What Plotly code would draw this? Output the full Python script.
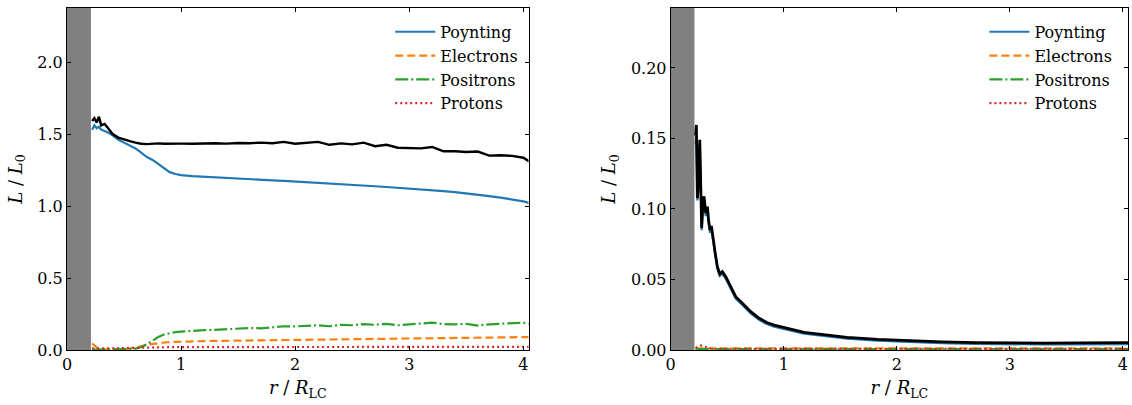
import plotly.graph_objects as go
from plotly.subplots import make_subplots

# ---------------- Left panel data ----------------
r_left = [0.22, 0.24, 0.26, 0.28, 0.30, 0.33, 0.36, 0.40, 0.45, 0.50,
          0.55, 0.60, 0.65, 0.70, 0.75, 0.80, 0.85, 0.90, 0.95, 1.00,
          1.1, 1.2, 1.3, 1.4, 1.5, 1.6, 1.7, 1.8, 1.9, 2.0,
          2.1, 2.2, 2.3, 2.4, 2.5, 2.6, 2.7, 2.8, 2.9, 3.0,
          3.1, 3.2, 3.3, 3.4, 3.5, 3.6, 3.7, 3.8, 3.9, 4.0, 4.05]
poynting_left = [1.53, 1.56, 1.54, 1.55, 1.53, 1.52, 1.51, 1.49, 1.46, 1.44,
                 1.42, 1.40, 1.37, 1.34, 1.32, 1.29, 1.26, 1.235, 1.222, 1.215,
                 1.208, 1.203, 1.198, 1.194, 1.19, 1.186, 1.182, 1.178, 1.174, 1.17,
                 1.166, 1.162, 1.157, 1.152, 1.147, 1.142, 1.137, 1.132, 1.127, 1.122,
                 1.116, 1.110, 1.103, 1.096, 1.088, 1.079, 1.069, 1.058, 1.046, 1.032, 1.022]
total_left = [1.59, 1.61, 1.58, 1.62, 1.56, 1.57, 1.54, 1.50, 1.475, 1.46,
              1.45, 1.44, 1.432, 1.43, 1.433, 1.435, 1.432, 1.434, 1.431, 1.433,
              1.432, 1.435, 1.436, 1.433, 1.438, 1.436, 1.44, 1.436, 1.445, 1.432,
              1.438, 1.445, 1.425, 1.435, 1.428, 1.44, 1.415, 1.425, 1.405, 1.405,
              1.40, 1.41, 1.38, 1.38, 1.375, 1.378, 1.35, 1.352, 1.348, 1.335, 1.31]
electrons_left = [0.045, 0.03, 0.015, 0.006, 0.003, 0.003, 0.003, 0.004, 0.005, 0.007,
                  0.01, 0.016, 0.026, 0.036, 0.043, 0.048, 0.052, 0.055, 0.057, 0.059,
                  0.061, 0.062, 0.063, 0.064, 0.065, 0.066, 0.067, 0.068, 0.069, 0.07,
                  0.071, 0.072, 0.073, 0.074, 0.075, 0.076, 0.077, 0.078, 0.079, 0.08,
                  0.081, 0.082, 0.083, 0.084, 0.085, 0.086, 0.087, 0.088, 0.089, 0.09, 0.09]
positrons_left = [0.002, 0.002, 0.003, 0.003, 0.003, 0.004, 0.004, 0.005, 0.005, 0.006,
                  0.007, 0.01, 0.02, 0.04, 0.065, 0.09, 0.108, 0.118, 0.124, 0.128,
                  0.134, 0.138, 0.14, 0.146, 0.148, 0.153, 0.15, 0.16, 0.165, 0.164,
                  0.168, 0.172, 0.165, 0.175, 0.172, 0.18, 0.175, 0.182, 0.172, 0.178,
                  0.18, 0.19, 0.18, 0.178, 0.182, 0.17, 0.178, 0.183, 0.19, 0.19, 0.18]
protons_left = [0.012, 0.011, 0.010, 0.010, 0.010, 0.011, 0.011, 0.012, 0.013, 0.014,
                0.015, 0.016, 0.017, 0.018, 0.018, 0.019, 0.019, 0.02, 0.02, 0.02,
                0.02, 0.02, 0.02, 0.021, 0.021, 0.021, 0.021, 0.021, 0.021, 0.021,
                0.021, 0.022, 0.022, 0.022, 0.022, 0.022, 0.022, 0.022, 0.022, 0.022,
                0.022, 0.022, 0.022, 0.022, 0.022, 0.022, 0.022, 0.022, 0.022, 0.022, 0.022]

# ---------------- Right panel data ----------------
r_right = [0.22, 0.227, 0.236, 0.245, 0.257, 0.265, 0.274, 0.285, 0.295, 0.31,
           0.325, 0.335, 0.348, 0.36, 0.372, 0.383, 0.395, 0.413, 0.434, 0.457,
           0.487, 0.531, 0.575, 0.634, 0.708, 0.782, 0.85, 0.915, 1.03, 1.18,
           1.39, 1.56, 1.83, 2.12, 2.4, 2.7, 3.0, 3.3, 3.6, 3.9, 4.05]
total_right = [0.152, 0.1596, 0.1076, 0.118, 0.149, 0.11, 0.0865, 0.105, 0.109, 0.097,
               0.1017, 0.092, 0.085, 0.088, 0.080, 0.0757, 0.068, 0.059, 0.054, 0.0556,
               0.052, 0.0449, 0.0378, 0.0331, 0.0272, 0.0225, 0.0195, 0.0177, 0.0154, 0.0125,
               0.0106, 0.0090, 0.0076, 0.0066, 0.0058, 0.0053, 0.0050, 0.0049, 0.0050, 0.0051, 0.0052]
poynting_right = [0.146, 0.152, 0.106, 0.116, 0.146, 0.108, 0.085, 0.103, 0.107, 0.095,
                  0.0995, 0.090, 0.083, 0.086, 0.078, 0.0740, 0.0665, 0.0575, 0.0525, 0.0540,
                  0.0505, 0.0435, 0.0365, 0.0319, 0.0260, 0.0214, 0.0184, 0.0166, 0.0144, 0.0115,
                  0.0096, 0.0080, 0.0066, 0.0056, 0.0048, 0.0043, 0.0040, 0.0039, 0.0040, 0.0041, 0.0042]
electrons_right = [0.0012, 0.0012, 0.0012, 0.0012, 0.0012, 0.0012, 0.0012, 0.0012, 0.0012, 0.0012,
                   0.0012, 0.0012, 0.0012, 0.0012, 0.0012, 0.0012, 0.0012, 0.0012, 0.0012, 0.0012,
                   0.0012, 0.0012, 0.0012, 0.0012, 0.0012, 0.0012, 0.0012, 0.0012, 0.0012, 0.0012,
                   0.0012, 0.0012, 0.0012, 0.0012, 0.0012, 0.0012, 0.0012, 0.0012, 0.0012, 0.0012, 0.0012]
positrons_right = [0.0006, 0.0006, 0.0006, 0.0006, 0.0006, 0.0006, 0.0006, 0.0006, 0.0006, 0.0006,
                   0.0006, 0.0006, 0.0006, 0.0006, 0.0006, 0.0006, 0.0006, 0.0006, 0.0006, 0.0006,
                   0.0006, 0.0006, 0.0006, 0.0006, 0.0006, 0.0006, 0.0006, 0.0006, 0.0006, 0.0006,
                   0.0006, 0.0006, 0.0006, 0.0006, 0.0006, 0.0006, 0.0006, 0.0006, 0.0006, 0.0006, 0.0006]
protons_right = [0.0015, 0.0018, 0.0022, 0.0025, 0.0028, 0.0032, 0.0030, 0.0027, 0.0024, 0.0018,
                 0.0014, 0.0012, 0.0010, 0.0009, 0.0008, 0.0008, 0.0008, 0.0008, 0.0008, 0.0008,
                 0.0008, 0.0008, 0.0008, 0.0008, 0.0008, 0.0008, 0.0008, 0.0008, 0.0008, 0.0008,
                 0.0008, 0.0008, 0.0008, 0.0008, 0.0008, 0.0008, 0.0008, 0.0008, 0.0008, 0.0008, 0.0008]

series_names = ["Poynting", "Electrons", "Positrons", "Protons"]
colors = ["#1f77b4", "#ff7f0e", "#2ca02c", "#d62728"]
dashes = ["solid", "8px,4px", "13px,3px,2px,3px", "2px,3px"]

x_ticks = [0, 1, 2, 3, 4]
left_yticks = [0.0, 0.5, 1.0, 1.5, 2.0]
left_yticklabels = ["0.0", "0.5", "1.0", "1.5", "2.0"]
right_yticks = [0.0, 0.05, 0.10, 0.15, 0.20]
right_yticklabels = ["0.00", "0.05", "0.10", "0.15", "0.20"]

FONT = "DejaVu Serif"

fig = make_subplots(rows=1, cols=2, horizontal_spacing=0.135)

panels = [
    (1, r_left, [poynting_left, electrons_left, positrons_left, protons_left], total_left, "legend", 2.4),
    (2, r_right, [poynting_right, electrons_right, positrons_right, protons_right], total_right, "legend2", 2.8),
]
for col, xs, ys_list, tot, leg, tw in panels:
    for name, ys, c, d in zip(series_names, ys_list, colors, dashes):
        fig.add_trace(go.Scatter(x=xs, y=ys, mode="lines", name=name,
                                 line=dict(color=c, width=2.2, dash=d),
                                 legend=leg), row=1, col=col)
    fig.add_trace(go.Scatter(x=xs, y=tot, mode="lines", name="Total",
                             line=dict(color="black", width=tw),
                             showlegend=False), row=1, col=col)
    xref = "x" if col == 1 else "x2"
    yref = "y domain" if col == 1 else "y2 domain"
    fig.add_shape(type="rect", xref=xref, yref=yref, x0=0, x1=0.21, y0=0, y1=1,
                  fillcolor="#808080", line=dict(width=0), layer="below")

axis_common = dict(showgrid=False, zeroline=False, showline=True, linecolor="black",
                   linewidth=1, mirror="ticks", ticks="inside", ticklen=4,
                   tickcolor="black", automargin=False,
                   tickfont=dict(family=FONT, size=16, color="black"))

xtitle = dict(text="<i>r</i> / <i>R</i><sub>LC</sub>", font=dict(family=FONT, size=18, color="black"),
              standoff=8)
ytitle = dict(text="<i>L</i> / <i>L</i><sub>0</sub>", font=dict(family=FONT, size=18, color="black"),
              standoff=10)

fig.update_xaxes(axis_common, range=[0, 4.045], tickvals=x_ticks, title=xtitle)
fig.update_yaxes(axis_common, title=ytitle)
fig.update_yaxes(range=[0, 2.375], tickvals=left_yticks, ticktext=left_yticklabels, row=1, col=1)
fig.update_yaxes(range=[0, 0.2425], tickvals=right_yticks, ticktext=right_yticklabels, row=1, col=2)

fig.update_layout(
    width=1132, height=405,
    margin=dict(l=67, r=4, t=8, b=55, autoexpand=False),
    paper_bgcolor="white", plot_bgcolor="white",
    font=dict(family=FONT, color="black"),
    xaxis=dict(domain=[0, 0.435]),
    xaxis2=dict(domain=[0.569, 1.0]),
    legend=dict(x=0.43, y=0.98, xanchor="right", yanchor="top", bgcolor="rgba(0,0,0,0)",
                font=dict(family=FONT, size=16, color="black"), itemwidth=40),
    legend2=dict(x=0.99, y=0.98, xanchor="right", yanchor="top", bgcolor="rgba(0,0,0,0)",
                 font=dict(family=FONT, size=16, color="black"), itemwidth=40),
)

fig.write_html("out.html", config={"displayModeBar": False},
               post_script="document.body.style.margin='0';document.body.style.padding='0';"
                           "document.documentElement.style.overflow='hidden';")
